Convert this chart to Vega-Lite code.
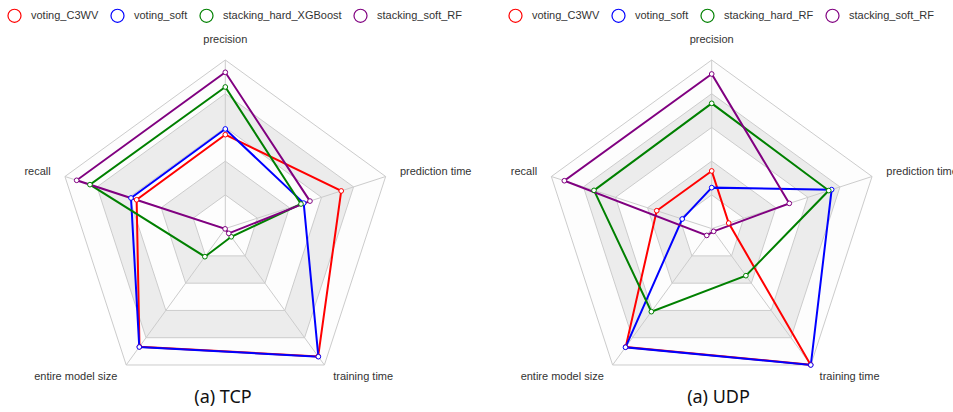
{
  "$schema": "https://vega.github.io/schema/vega-lite/v6.json",
  "background": "white",
  "padding": 0,
  "spacing": 0,
  "resolve": {"scale": {"stroke": "independent", "fill": "independent", "x": "independent", "y": "independent"}, "legend": {"stroke": "independent"}},
  "config": {
    "view": {"stroke": null},
    "text": {"font": "Liberation Sans", "fontSize": 11, "color": "#333333"},
    "legend": {
      "labelFont": "Liberation Sans",
      "labelFontSize": 11,
      "labelColor": "#333333",
      "columnPadding": 9,
      "labelOffset": 9,
      "symbolType": "circle",
      "symbolSize": 170,
      "symbolStrokeWidth": 1.2,
      "symbolFillColor": "white",
      "direction": "horizontal",
      "orient": "none",
      "title": null
    }
  },
  "datasets": {
    "tcp": [
      {"model": "voting_C3WV", "metric": "precision", "value": 0.557},
      {"model": "voting_C3WV", "metric": "recall", "value": 0.553},
      {"model": "voting_C3WV", "metric": "entire model size", "value": 0.866},
      {"model": "voting_C3WV", "metric": "training time", "value": 0.937},
      {"model": "voting_C3WV", "metric": "prediction time", "value": 0.723},
      {"model": "voting_soft", "metric": "precision", "value": 0.591},
      {"model": "voting_soft", "metric": "recall", "value": 0.588},
      {"model": "voting_soft", "metric": "entire model size", "value": 0.868},
      {"model": "voting_soft", "metric": "training time", "value": 0.939},
      {"model": "voting_soft", "metric": "prediction time", "value": 0.489},
      {"model": "stacking_hard_XGBoost", "metric": "precision", "value": 0.840},
      {"model": "stacking_hard_XGBoost", "metric": "recall", "value": 0.844},
      {"model": "stacking_hard_XGBoost", "metric": "entire model size", "value": 0.206},
      {"model": "stacking_hard_XGBoost", "metric": "training time", "value": 0.060},
      {"model": "stacking_hard_XGBoost", "metric": "prediction time", "value": 0.472},
      {"model": "stacking_soft_RF", "metric": "precision", "value": 0.927},
      {"model": "stacking_soft_RF", "metric": "recall", "value": 0.927},
      {"model": "stacking_soft_RF", "metric": "entire model size", "value": 0.002},
      {"model": "stacking_soft_RF", "metric": "training time", "value": 0.035},
      {"model": "stacking_soft_RF", "metric": "prediction time", "value": 0.528}
    ],
    "udp": [
      {"model": "voting_C3WV", "metric": "precision", "value": 0.342},
      {"model": "voting_C3WV", "metric": "recall", "value": 0.343},
      {"model": "voting_C3WV", "metric": "entire model size", "value": 0.868},
      {"model": "voting_C3WV", "metric": "training time", "value": 0.998},
      {"model": "voting_C3WV", "metric": "prediction time", "value": 0.106},
      {"model": "voting_soft", "metric": "precision", "value": 0.243},
      {"model": "voting_soft", "metric": "recall", "value": 0.184},
      {"model": "voting_soft", "metric": "entire model size", "value": 0.870},
      {"model": "voting_soft", "metric": "training time", "value": 1.0},
      {"model": "voting_soft", "metric": "prediction time", "value": 0.748},
      {"model": "stacking_hard_RF", "metric": "precision", "value": 0.743},
      {"model": "stacking_hard_RF", "metric": "recall", "value": 0.734},
      {"model": "stacking_hard_RF", "metric": "entire model size", "value": 0.609},
      {"model": "stacking_hard_RF", "metric": "training time", "value": 0.345},
      {"model": "stacking_hard_RF", "metric": "prediction time", "value": 0.730},
      {"model": "stacking_soft_RF", "metric": "precision", "value": 0.917},
      {"model": "stacking_soft_RF", "metric": "recall", "value": 0.919},
      {"model": "stacking_soft_RF", "metric": "entire model size", "value": 0.050},
      {"model": "stacking_soft_RF", "metric": "training time", "value": 0.020},
      {"model": "stacking_soft_RF", "metric": "prediction time", "value": 0.484}
    ],
    "rings": [
      {"level": 1.0, "k": [0, 1, 2, 3, 4]},
      {"level": 0.8, "k": [0, 1, 2, 3, 4]},
      {"level": 0.6, "k": [0, 1, 2, 3, 4]},
      {"level": 0.4, "k": [0, 1, 2, 3, 4]},
      {"level": 0.2, "k": [0, 1, 2, 3, 4]}
    ],
    "axes": [
      {"metric": "precision"},
      {"metric": "recall"},
      {"metric": "entire model size"},
      {"metric": "training time"},
      {"metric": "prediction time"}
    ]
  },
  "hconcat": [
    {
      "width": 486,
      "height": 380,
      "title": {"text": "(a) TCP", "orient": "bottom", "anchor": "middle", "font": "Noto Sans", "fontSize": 18, "fontWeight": "normal", "color": "#111111", "baseline": "alphabetic", "offset": 21, "dx": -20},
      "layer": [
        {
          "data": {"name": "rings"},
          "transform": [
            {"flatten": ["k"]},
            {"calculate": "PI / 2 + datum.k * 2 * PI / 5", "as": "ang"},
            {"calculate": "datum.level * cos(datum.ang)", "as": "px"},
            {"calculate": "datum.level * sin(datum.ang)", "as": "py"}
          ],
          "mark": {"type": "line", "interpolate": "linear-closed", "stroke": "#cccccc", "strokeWidth": 1},
          "encoding": {
            "x": {"field": "px", "type": "quantitative", "scale": {"domain": [-1.3363, 1.5463], "nice": false, "zero": false}, "axis": null},
            "y": {"field": "py", "type": "quantitative", "scale": {"domain": [-0.898, 1.3559], "nice": false, "zero": false}, "axis": null},
            "detail": {"field": "level", "type": "nominal"},
            "order": {"field": "k", "type": "quantitative"},
            "fill": {"field": "level", "type": "ordinal", "scale": {"domain": [1.0, 0.8, 0.6, 0.4, 0.2], "range": ["#fdfdfd", "#ececec", "#fdfdfd", "#ececec", "#fdfdfd"]}, "legend": null}
          }
        },
        {
          "data": {"name": "axes"},
          "transform": [
            {"calculate": "indexof(['precision','recall','entire model size','training time','prediction time'], datum.metric)", "as": "k"},
            {"calculate": "PI / 2 + datum.k * 2 * PI / 5", "as": "ang"},
            {"calculate": "cos(datum.ang)", "as": "px"},
            {"calculate": "sin(datum.ang)", "as": "py"},
            {"calculate": "0", "as": "cx"}
          ],
          "mark": {"type": "rule", "stroke": "#cccccc", "strokeWidth": 1},
          "encoding": {
            "x": {"field": "cx", "type": "quantitative", "scale": {"domain": [-1.3363, 1.5463], "nice": false, "zero": false}, "axis": null},
            "y": {"field": "cx", "type": "quantitative", "scale": {"domain": [-0.898, 1.3559], "nice": false, "zero": false}, "axis": null},
            "x2": {"field": "px"},
            "y2": {"field": "py"}
          }
        },
        {
          "data": {"name": "tcp"},
          "transform": [
            {"calculate": "indexof(['precision','recall','entire model size','training time','prediction time'], datum.metric)", "as": "k"},
            {"calculate": "PI / 2 + datum.k * 2 * PI / 5", "as": "ang"},
            {"calculate": "datum.value * cos(datum.ang)", "as": "px"},
            {"calculate": "datum.value * sin(datum.ang)", "as": "py"}
          ],
          "layer": [
            {
              "mark": {"type": "line", "interpolate": "linear-closed", "strokeWidth": 2},
              "encoding": {
                "x": {"field": "px", "type": "quantitative", "scale": {"domain": [-1.3363, 1.5463], "nice": false, "zero": false}, "axis": null},
                "y": {"field": "py", "type": "quantitative", "scale": {"domain": [-0.898, 1.3559], "nice": false, "zero": false}, "axis": null},
                "order": {"field": "k", "type": "quantitative"},
                "stroke": {"field": "model", "type": "nominal", "scale": {"domain": ["voting_C3WV", "voting_soft", "stacking_hard_XGBoost", "stacking_soft_RF"], "range": ["#ff0000", "#0000ff", "#008000", "#800080"]}, "legend": {"legendX": 7, "legendY": 8}}
              }
            },
            {
              "mark": {"type": "point", "shape": "circle", "filled": true, "fill": "white", "size": 22, "strokeWidth": 1, "opacity": 1},
              "encoding": {
                "x": {"field": "px", "type": "quantitative", "scale": {"domain": [-1.3363, 1.5463], "nice": false, "zero": false}, "axis": null},
                "y": {"field": "py", "type": "quantitative", "scale": {"domain": [-0.898, 1.3559], "nice": false, "zero": false}, "axis": null},
                "stroke": {"field": "model", "type": "nominal", "scale": {"domain": ["voting_C3WV", "voting_soft", "stacking_hard_XGBoost", "stacking_soft_RF"], "range": ["#ff0000", "#0000ff", "#008000", "#800080"]}, "legend": {"legendX": 7, "legendY": 8}}
              }
            }
          ]
        },
        {
          "data": {"name": "axes"},
          "transform": [
            {"calculate": "indexof(['precision','recall','entire model size','training time','prediction time'], datum.metric)", "as": "k"},
            {"calculate": "PI / 2 + datum.k * 2 * PI / 5", "as": "ang"},
            {"calculate": "1.089 * cos(datum.ang)", "as": "px"},
            {"calculate": "1.089 * sin(datum.ang)", "as": "py"}
          ],
          "layer": [
            {
              "transform": [{"filter": "datum.k == 0"}],
              "mark": {"type": "text", "align": "center", "baseline": "bottom"},
              "encoding": {
                "x": {"field": "px", "type": "quantitative", "scale": {"domain": [-1.3363, 1.5463], "nice": false, "zero": false}, "axis": null},
                "y": {"field": "py", "type": "quantitative", "scale": {"domain": [-0.898, 1.3559], "nice": false, "zero": false}, "axis": null},
                "text": {"field": "metric"}
              }
            },
            {
              "transform": [{"filter": "datum.k == 1 || datum.k == 2"}],
              "mark": {"type": "text", "align": "right", "baseline": "middle"},
              "encoding": {
                "x": {"field": "px", "type": "quantitative", "scale": {"domain": [-1.3363, 1.5463], "nice": false, "zero": false}, "axis": null},
                "y": {"field": "py", "type": "quantitative", "scale": {"domain": [-0.898, 1.3559], "nice": false, "zero": false}, "axis": null},
                "text": {"field": "metric"}
              }
            },
            {
              "transform": [{"filter": "datum.k == 3 || datum.k == 4"}],
              "mark": {"type": "text", "align": "left", "baseline": "middle"},
              "encoding": {
                "x": {"field": "px", "type": "quantitative", "scale": {"domain": [-1.3363, 1.5463], "nice": false, "zero": false}, "axis": null},
                "y": {"field": "py", "type": "quantitative", "scale": {"domain": [-0.898, 1.3559], "nice": false, "zero": false}, "axis": null},
                "text": {"field": "metric"}
              }
            }
          ]
        }
      ]
    },
    {
      "width": 467,
      "height": 380,
      "title": {"text": "(a) UDP", "orient": "bottom", "anchor": "middle", "font": "Noto Sans", "fontSize": 18, "fontWeight": "normal", "color": "#111111", "baseline": "alphabetic", "offset": 21, "dx": -1},
      "layer": [
        {
          "data": {"name": "rings"},
          "transform": [
            {"flatten": ["k"]},
            {"calculate": "PI / 2 + datum.k * 2 * PI / 5", "as": "ang"},
            {"calculate": "datum.level * cos(datum.ang)", "as": "px"},
            {"calculate": "datum.level * sin(datum.ang)", "as": "py"}
          ],
          "mark": {"type": "line", "interpolate": "linear-closed", "stroke": "#cccccc", "strokeWidth": 1},
          "encoding": {
            "x": {"field": "px", "type": "quantitative", "scale": {"domain": [-1.3387, 1.4312], "nice": false, "zero": false}, "axis": null},
            "y": {"field": "py", "type": "quantitative", "scale": {"domain": [-0.898, 1.3559], "nice": false, "zero": false}, "axis": null},
            "detail": {"field": "level", "type": "nominal"},
            "order": {"field": "k", "type": "quantitative"},
            "fill": {"field": "level", "type": "ordinal", "scale": {"domain": [1.0, 0.8, 0.6, 0.4, 0.2], "range": ["#fdfdfd", "#ececec", "#fdfdfd", "#ececec", "#fdfdfd"]}, "legend": null}
          }
        },
        {
          "data": {"name": "axes"},
          "transform": [
            {"calculate": "indexof(['precision','recall','entire model size','training time','prediction time'], datum.metric)", "as": "k"},
            {"calculate": "PI / 2 + datum.k * 2 * PI / 5", "as": "ang"},
            {"calculate": "cos(datum.ang)", "as": "px"},
            {"calculate": "sin(datum.ang)", "as": "py"},
            {"calculate": "0", "as": "cx"}
          ],
          "mark": {"type": "rule", "stroke": "#cccccc", "strokeWidth": 1},
          "encoding": {
            "x": {"field": "cx", "type": "quantitative", "scale": {"domain": [-1.3387, 1.4312], "nice": false, "zero": false}, "axis": null},
            "y": {"field": "cx", "type": "quantitative", "scale": {"domain": [-0.898, 1.3559], "nice": false, "zero": false}, "axis": null},
            "x2": {"field": "px"},
            "y2": {"field": "py"}
          }
        },
        {
          "data": {"name": "udp"},
          "transform": [
            {"calculate": "indexof(['precision','recall','entire model size','training time','prediction time'], datum.metric)", "as": "k"},
            {"calculate": "PI / 2 + datum.k * 2 * PI / 5", "as": "ang"},
            {"calculate": "datum.value * cos(datum.ang)", "as": "px"},
            {"calculate": "datum.value * sin(datum.ang)", "as": "py"}
          ],
          "layer": [
            {
              "mark": {"type": "line", "interpolate": "linear-closed", "strokeWidth": 2},
              "encoding": {
                "x": {"field": "px", "type": "quantitative", "scale": {"domain": [-1.3387, 1.4312], "nice": false, "zero": false}, "axis": null},
                "y": {"field": "py", "type": "quantitative", "scale": {"domain": [-0.898, 1.3559], "nice": false, "zero": false}, "axis": null},
                "order": {"field": "k", "type": "quantitative"},
                "stroke": {"field": "model", "type": "nominal", "scale": {"domain": ["voting_C3WV", "voting_soft", "stacking_hard_RF", "stacking_soft_RF"], "range": ["#ff0000", "#0000ff", "#008000", "#800080"]}, "legend": {"legendX": 22, "legendY": 8}}
              }
            },
            {
              "mark": {"type": "point", "shape": "circle", "filled": true, "fill": "white", "size": 22, "strokeWidth": 1, "opacity": 1},
              "encoding": {
                "x": {"field": "px", "type": "quantitative", "scale": {"domain": [-1.3387, 1.4312], "nice": false, "zero": false}, "axis": null},
                "y": {"field": "py", "type": "quantitative", "scale": {"domain": [-0.898, 1.3559], "nice": false, "zero": false}, "axis": null},
                "stroke": {"field": "model", "type": "nominal", "scale": {"domain": ["voting_C3WV", "voting_soft", "stacking_hard_RF", "stacking_soft_RF"], "range": ["#ff0000", "#0000ff", "#008000", "#800080"]}, "legend": {"legendX": 22, "legendY": 8}}
              }
            }
          ]
        },
        {
          "data": {"name": "axes"},
          "transform": [
            {"calculate": "indexof(['precision','recall','entire model size','training time','prediction time'], datum.metric)", "as": "k"},
            {"calculate": "PI / 2 + datum.k * 2 * PI / 5", "as": "ang"},
            {"calculate": "1.089 * cos(datum.ang)", "as": "px"},
            {"calculate": "1.089 * sin(datum.ang)", "as": "py"}
          ],
          "layer": [
            {
              "transform": [{"filter": "datum.k == 0"}],
              "mark": {"type": "text", "align": "center", "baseline": "bottom"},
              "encoding": {
                "x": {"field": "px", "type": "quantitative", "scale": {"domain": [-1.3387, 1.4312], "nice": false, "zero": false}, "axis": null},
                "y": {"field": "py", "type": "quantitative", "scale": {"domain": [-0.898, 1.3559], "nice": false, "zero": false}, "axis": null},
                "text": {"field": "metric"}
              }
            },
            {
              "transform": [{"filter": "datum.k == 1 || datum.k == 2"}],
              "mark": {"type": "text", "align": "right", "baseline": "middle"},
              "encoding": {
                "x": {"field": "px", "type": "quantitative", "scale": {"domain": [-1.3387, 1.4312], "nice": false, "zero": false}, "axis": null},
                "y": {"field": "py", "type": "quantitative", "scale": {"domain": [-0.898, 1.3559], "nice": false, "zero": false}, "axis": null},
                "text": {"field": "metric"}
              }
            },
            {
              "transform": [{"filter": "datum.k == 3 || datum.k == 4"}],
              "mark": {"type": "text", "align": "left", "baseline": "middle"},
              "encoding": {
                "x": {"field": "px", "type": "quantitative", "scale": {"domain": [-1.3387, 1.4312], "nice": false, "zero": false}, "axis": null},
                "y": {"field": "py", "type": "quantitative", "scale": {"domain": [-0.898, 1.3559], "nice": false, "zero": false}, "axis": null},
                "text": {"field": "metric"}
              }
            }
          ]
        }
      ]
    }
  ]
}
